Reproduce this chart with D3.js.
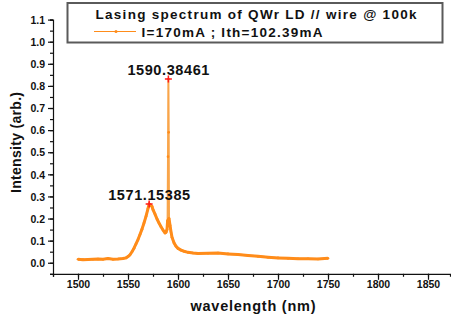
<!DOCTYPE html>
<html>
<head>
<meta charset="utf-8">
<script src="https://cdn.jsdelivr.net/npm/d3@7"></script>
<style>
  body { margin: 0; background: #fff; }
  text { font-family: "Liberation Sans", Arial, sans-serif; font-weight: bold; fill: #111; }
</style>
</head>
<body>
<svg id="chart" width="451" height="320"></svg>
<script>
// spectrum (nm, arb.)
const wavelength = [1500, 1505, 1510, 1515, 1520, 1525, 1530, 1535, 1540, 1545, 1548, 1550,
  1552, 1554, 1556, 1558, 1560, 1562, 1564, 1566, 1568, 1570, 1571.15, 1572, 1573, 1574,
  1575, 1577, 1579, 1581, 1583, 1585, 1587, 1588, 1589, 1589.6, 1590, 1590.38, 1590.7,
  1591, 1592, 1593, 1594, 1596, 1598, 1600, 1603, 1606, 1610, 1615, 1620, 1630, 1640,
  1650, 1660, 1670, 1680, 1690, 1700, 1710, 1720, 1730, 1740, 1750];
const intensity = [0.016, 0.014, 0.015, 0.016, 0.017, 0.016, 0.019, 0.016, 0.017, 0.019, 0.022, 0.028,
  0.036, 0.05, 0.066, 0.085, 0.105, 0.128, 0.152, 0.18, 0.21, 0.245, 0.266, 0.262, 0.258, 0.255,
  0.24, 0.22, 0.198, 0.18, 0.163, 0.148, 0.135, 0.138, 0.15, 0.19, 0.48, 0.831, 0.59,
  0.2, 0.17, 0.14, 0.115, 0.09, 0.075, 0.065, 0.057, 0.052, 0.047, 0.044, 0.042, 0.043, 0.044,
  0.04, 0.037, 0.033, 0.029, 0.025, 0.022, 0.02, 0.018, 0.018, 0.017, 0.02];

const peakX = [1590.38461, 1571.15385];
const peakY = [0.831, 0.266];
const peakLabels = ['1590.38461', '1571.15385'];

const xTicks = [1500, 1550, 1600, 1650, 1700, 1750, 1800, 1850];
const yTicks = [0.0, 0.1, 0.2, 0.3, 0.4, 0.5, 0.6, 0.7, 0.8, 0.9, 1.0, 1.1];

const titleText = 'Lasing spectrum of QWr LD // wire @ 100k';
const legendText = 'I=170mA ; Ith=102.39mA';
const orange = '#ff8c1a';

const svg = d3.select('#chart');

const x = d3.scaleLinear().domain([1475, 1872]).range([53, 450]);
const y = d3.scaleLinear().domain([-0.05, 1.1]).range([273.8, 19.6]);

// x axis: minor ticks every 25, labels every 50
const xAxis = svg.append('g').attr('transform', `translate(0,${y(-0.05)})`);
xAxis.call(d3.axisBottom(x).tickValues(d3.range(1475, 1870, 25)).tickSize(3).tickFormat(''));
xAxis.call((g) => g.append('g').call(d3.axisBottom(x).tickValues(xTicks).tickSize(6)
  .tickFormat(d3.format('d'))));
xAxis.selectAll('path.domain').attr('stroke', '#111').attr('stroke-width', 1.2);
xAxis.selectAll('g g path.domain').remove();
xAxis.selectAll('line').attr('stroke', '#111').attr('stroke-width', 1.2);
xAxis.selectAll('text').attr('font-size', 10.5).attr('fill', '#111').attr('dy', 0).attr('y', 14.5);

// y axis: minor ticks every 0.05, labels every 0.1
const yAxis = svg.append('g').attr('transform', `translate(${x(1475)},0)`);
yAxis.call(d3.axisLeft(y).tickValues(d3.range(-0.05, 1.12, 0.05)).tickSize(3).tickFormat(''));
yAxis.call((g) => g.append('g').call(d3.axisLeft(y).tickValues(yTicks).tickSize(5)
  .tickFormat(d3.format('.1f'))));
yAxis.selectAll('path.domain').attr('stroke', '#111').attr('stroke-width', 1.2);
yAxis.selectAll('g g path.domain').remove();
yAxis.selectAll('line').attr('stroke', '#111').attr('stroke-width', 1.2);
yAxis.selectAll('text').attr('font-size', 10.5).attr('fill', '#111').attr('x', -8).attr('dy', '0.35em');

// axis titles
svg.append('text')
  .attr('x', 253).attr('y', 311)
  .attr('text-anchor', 'middle').attr('font-size', 14.5)
  .attr('textLength', 125).attr('lengthAdjust', 'spacing')
  .text('wavelength (nm)');

svg.append('text')
  .attr('transform', 'translate(20.5,142.5) rotate(-90)')
  .attr('text-anchor', 'middle').attr('font-size', 14)
  .attr('textLength', 101).attr('lengthAdjust', 'spacing')
  .text('Intensity (arb.)');

// spectrum
const pts = wavelength.map((w, i) => [w, intensity[i]]);
const line = d3.line().x((d) => x(d[0])).y((d) => y(d[1]));
const isSpike = (d) => d[0] > 1589.8 && d[0] < 1590.9;

svg.append('path')
  .attr('d', line(pts))
  .attr('fill', 'none').attr('stroke', '#f9a54a').attr('stroke-width', 2);
svg.append('path')
  .attr('d', line(pts.filter((d) => !isSpike(d))))
  .attr('fill', 'none').attr('stroke', orange).attr('stroke-width', 3)
  .attr('stroke-linejoin', 'round');
svg.append('g').selectAll('circle').data(pts).enter()
  .append('circle')
  .attr('cx', (d) => x(d[0]))
  .attr('cy', (d) => y(d[1]))
  .attr('r', 1.3)
  .attr('fill', orange);

// peak markers and labels
peakX.forEach((px, i) => {
  const cx = x(px);
  const cy = y(peakY[i]);
  svg.append('path')
    .attr('d', `M${cx - 3.5},${cy}H${cx + 3.5}M${cx},${cy - 3.5}V${cy + 3.5}`)
    .attr('stroke', '#ff1a1a').attr('stroke-width', 1.5);
  svg.append('text')
    .attr('x', cx).attr('y', cy - 4)
    .attr('text-anchor', 'middle').attr('font-size', 14.5)
    .attr('textLength', 82).attr('lengthAdjust', 'spacing')
    .text(peakLabels[i]);
});

// title / legend box
svg.append('rect')
  .attr('x', 67.5).attr('y', 3).attr('width', 375).attr('height', 39.5)
  .attr('fill', '#fff').attr('stroke', '#5a5a5a').attr('stroke-width', 2);
svg.append('text')
  .attr('x', 256).attr('y', 18.5)
  .attr('text-anchor', 'middle').attr('font-size', 13.5)
  .attr('textLength', 321).attr('lengthAdjust', 'spacing')
  .text(titleText);
svg.append('line')
  .attr('x1', 94).attr('x2', 136).attr('y1', 31.5).attr('y2', 31.5)
  .attr('stroke', orange).attr('stroke-width', 1);
svg.append('circle')
  .attr('cx', 116).attr('cy', 31.5).attr('r', 1.5).attr('fill', orange);
svg.append('text')
  .attr('x', 141.5).attr('y', 36.5)
  .attr('font-size', 13.5)
  .attr('textLength', 181).attr('lengthAdjust', 'spacing')
  .text(legendText);
</script>
</body>
</html>
